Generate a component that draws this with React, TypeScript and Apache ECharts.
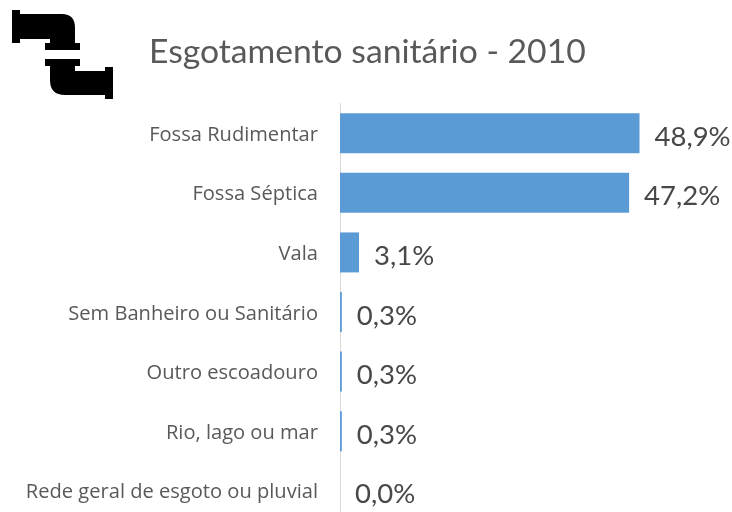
import React, { useEffect, useRef } from "react";
import * as echarts from "echarts";

const categories = [
  "Fossa Rudimentar",
  "Fossa Séptica",
  "Vala",
  "Sem Banheiro ou Sanitário",
  "Outro escoadouro",
  "Rio, lago ou mar",
  "Rede geral de esgoto ou pluvial",
];
const values = [48.9, 47.2, 3.1, 0.3, 0.3, 0.3, 0.0];
const titleText = "Esgotamento sanitário - 2010";
const FONT = "Lato, 'Open Sans', sans-serif";
const LABEL_FONT = "'Open Sans', sans-serif";

const pipeD =
  "M12 10 L20 10 L20 14 L62 14 Q75 14 75 28 L75 43 L80 43 L80 50 L45 50 L45 43 L50 43 L50 39 L20 39 L20 43 L12 43 Z " +
  "M45 59 L80 59 L80 66 L75 66 L75 71 L105 71 L105 67 L113 67 L113 99 L105 99 L105 95 L65 95 Q50 95 50 80 L50 66 L45 66 Z";
echarts.graphic.registerShape("pipeLogo", (echarts.graphic as any).extendPath(pipeD, {}));

export default function App() {
  const ref = useRef<HTMLDivElement>(null);
  useEffect(() => {
    const chart = echarts.init(ref.current!, undefined, { renderer: "svg" });
    chart.setOption({
      animation: false,
      backgroundColor: "#ffffff",
      title: {
        text: titleText,
        left: 149,
        top: 33,
        padding: 0,
        textStyle: { fontFamily: FONT, fontSize: 33.7, fontWeight: "normal", color: "#595959" },
      },
      grid: { left: 340, top: 103.5, width: 367.5, height: 417, outerBoundsMode: "none" },
      xAxis: { type: "value", min: 0, max: 60, show: false },
      yAxis: {
        type: "category",
        inverse: true,
        data: categories,
        axisLine: { show: true, lineStyle: { color: "#d9d9d9", width: 1 } },
        axisTick: { show: false },
        axisLabel: { margin: 22, fontFamily: LABEL_FONT, fontSize: 20.1, color: "#595959" },
      },
      graphic: [{ type: "pipeLogo", x: 0, y: 0, style: { fill: "#000000" } }],
      series: [
        {
          type: "bar",
          data: values,
          barWidth: 40,
          itemStyle: { color: "#5B9BD5" },
          label: {
            show: true,
            position: "right",
            distance: 15,
            offset: [0, 2],
            fontFamily: FONT,
            fontSize: 27.5,
            color: "#484848",
            formatter: (p: any) => p.value.toFixed(1).replace(".", ",") + "%",
          },
        },
      ],
    });
    return () => chart.dispose();
  }, []);
  return (
    <div
      ref={ref}
      style={{ position: "fixed", left: 0, top: 0, width: 732, height: 512, filter: "blur(0.5px)" }}
    />
  );
}
